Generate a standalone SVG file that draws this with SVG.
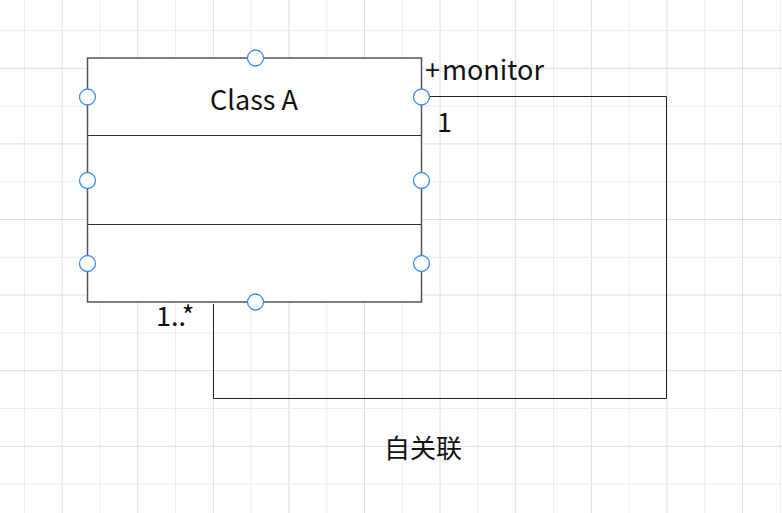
<svg xmlns="http://www.w3.org/2000/svg" width="782" height="513" viewBox="0 0 782 513">
<style>
.gl{stroke:#ededed;stroke-width:1}
.gd{stroke:#dedede;stroke-width:1}
.box{fill:#fff;stroke:#555;stroke-width:1.5}
.div{stroke:#333;stroke-width:1.2}
.pt{fill:#fff;stroke:#3b8cf5;stroke-width:1.3}
.conn{fill:none;stroke:#222;stroke-width:1}
.t{font-family:"Noto Sans CJK SC","Noto Sans",sans-serif;font-size:27px;fill:#111}
</style>
<rect width="782" height="513" fill="#fff"/>
<g id="grid">
<line class="gl" x1="24.3" y1="0" x2="24.3" y2="513"/>
<line class="gd" x1="62.1" y1="0" x2="62.1" y2="513"/>
<line class="gl" x1="99.9" y1="0" x2="99.9" y2="513"/>
<line class="gd" x1="137.7" y1="0" x2="137.7" y2="513"/>
<line class="gl" x1="175.5" y1="0" x2="175.5" y2="513"/>
<line class="gd" x1="213.3" y1="0" x2="213.3" y2="513"/>
<line class="gl" x1="251.1" y1="0" x2="251.1" y2="513"/>
<line class="gd" x1="288.9" y1="0" x2="288.9" y2="513"/>
<line class="gl" x1="326.7" y1="0" x2="326.7" y2="513"/>
<line class="gd" x1="364.5" y1="0" x2="364.5" y2="513"/>
<line class="gl" x1="402.3" y1="0" x2="402.3" y2="513"/>
<line class="gd" x1="440.1" y1="0" x2="440.1" y2="513"/>
<line class="gl" x1="477.9" y1="0" x2="477.9" y2="513"/>
<line class="gd" x1="515.7" y1="0" x2="515.7" y2="513"/>
<line class="gl" x1="553.5" y1="0" x2="553.5" y2="513"/>
<line class="gd" x1="591.3" y1="0" x2="591.3" y2="513"/>
<line class="gl" x1="629.1" y1="0" x2="629.1" y2="513"/>
<line class="gd" x1="666.9" y1="0" x2="666.9" y2="513"/>
<line class="gl" x1="704.7" y1="0" x2="704.7" y2="513"/>
<line class="gd" x1="742.5" y1="0" x2="742.5" y2="513"/>
<line class="gl" x1="780.3" y1="0" x2="780.3" y2="513"/>
<line class="gl" x1="0" y1="30.5" x2="782" y2="30.5"/>
<line class="gd" x1="0" y1="68.3" x2="782" y2="68.3"/>
<line class="gl" x1="0" y1="106.1" x2="782" y2="106.1"/>
<line class="gd" x1="0" y1="143.9" x2="782" y2="143.9"/>
<line class="gl" x1="0" y1="181.7" x2="782" y2="181.7"/>
<line class="gd" x1="0" y1="219.5" x2="782" y2="219.5"/>
<line class="gl" x1="0" y1="257.3" x2="782" y2="257.3"/>
<line class="gd" x1="0" y1="295.1" x2="782" y2="295.1"/>
<line class="gl" x1="0" y1="332.9" x2="782" y2="332.9"/>
<line class="gd" x1="0" y1="370.7" x2="782" y2="370.7"/>
<line class="gl" x1="0" y1="408.5" x2="782" y2="408.5"/>
<line class="gd" x1="0" y1="446.3" x2="782" y2="446.3"/>
<line class="gl" x1="0" y1="484.1" x2="782" y2="484.1"/>
</g>
<g id="connectors">
<polyline class="conn" points="421,96.5 666.5,96.5 666.5,398.5 213.5,398.5 213.5,304"/>
<text class="t" x="425" y="79.5">+<tspan dx="2">monitor</tspan></text>
<text class="t" x="437" y="131.5">1</text>
<text class="t" x="156" y="326">1..*</text>
</g>
<g id="classA">
<rect class="box" x="87.5" y="58" width="334" height="244"/>
<line class="div" x1="87.5" y1="135.5" x2="421.5" y2="135.5"/>
<line class="div" x1="87.5" y1="224.5" x2="421.5" y2="224.5"/>
<text class="t" x="254" y="110" text-anchor="middle">Class A</text>
<circle class="pt" cx="255.5" cy="58" r="8"/>
<circle class="pt" cx="87.5" cy="97" r="8"/>
<circle class="pt" cx="87.5" cy="180.5" r="8"/>
<circle class="pt" cx="87.5" cy="263.5" r="8"/>
<circle class="pt" cx="421.5" cy="97" r="8"/>
<circle class="pt" cx="421.5" cy="180.5" r="8"/>
<circle class="pt" cx="421.5" cy="263.5" r="8"/>
<circle class="pt" cx="255.5" cy="302" r="8"/>
</g>
<g id="caption">
<text class="t" x="384" y="458" style="font-size:26px">自关联</text>
</g>
</svg>
